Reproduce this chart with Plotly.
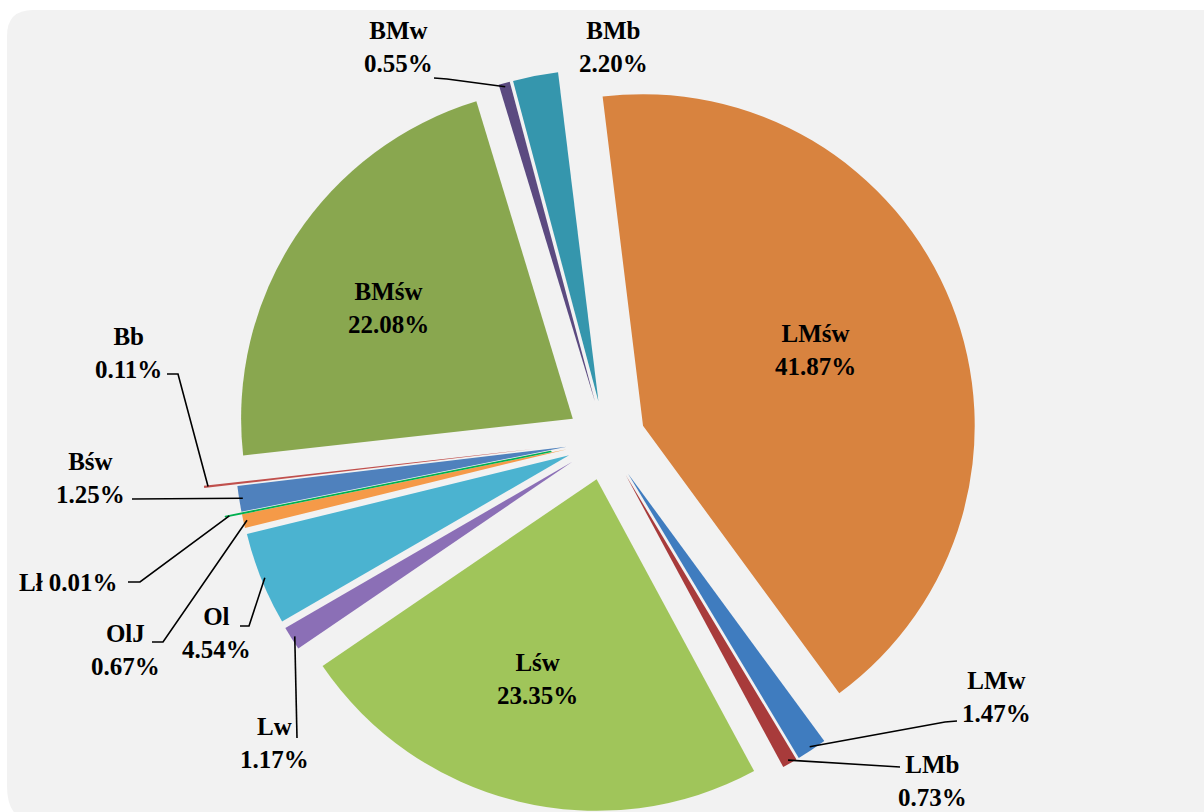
import math
import plotly.graph_objects as go

# ---- data ----
categories = ["LMśw", "LMw", "LMb", "Lśw", "Lw", "Ol", "OlJ", "Lł",
              "Bśw", "Bb", "BMśw", "BMw", "BMb"]
shares = [41.87, 1.47, 0.73, 23.35, 1.17, 4.54, 0.67, 0.01,
          1.25, 0.11, 22.08, 0.55, 2.20]
percent_labels = ["41.87%", "1.47%", "0.73%", "23.35%", "1.17%", "4.54%", "0.67%",
                  "0.01%", "1.25%", "0.11%", "22.08%", "0.55%", "2.20%"]

# ---- styling ----
colors = ["#d8833f", "#3f7cbf", "#a83b3b", "#a0c55a", "#8b6fb6", "#4bb3d0", "#f59a48",
          "#00b050", "#4f81bd", "#c0504d", "#89a74f", "#5b4a80", "#3596ad"]
pulls = [0.12] * len(shares)
# slices exploded further than the rest (drawn in their own shifted trace)
extra_pull = {"Bb": 0.22, "Lł": 0.17}
rotation = -7

W, H = 1204, 812
dom_x = [0.1948, 0.8119]
dom_y = [0.0, 0.915]

# label placement (pixel centres), optional leader start / elbow points
label_layout = {
    "LMśw": dict(c=(815, 350), two=True),
    "LMw": dict(c=(996, 697), two=True, lead=[(957, 721), (945, 722)]),
    "LMb": dict(c=(932, 781), two=True, lead=[(900, 767)]),
    "Lśw": dict(c=(537, 679), two=True),
    "Lw": dict(c=(274, 743), two=True, lead=[(297, 738)]),
    "Ol": dict(c=(217, 633), two=True, lead=[(240, 626), (249, 626)]),
    "OlJ": dict(c=(125, 650), two=True, lead=[(152, 642), (163, 642)]),
    "Lł": dict(c=(68, 582), two=False, lead=[(128, 582), (140, 582)]),
    "Bśw": dict(c=(90, 478), two=True, lead=[(132, 499)]),
    "Bb": dict(c=(128, 353), two=True, lead=[(167, 374), (178, 374)]),
    "BMśw": dict(c=(388, 308), two=True),
    "BMw": dict(c=(398, 47), two=True, lead=[(434, 78), (447, 79)]),
    "BMb": dict(c=(613, 47), two=True),
}

# ---- pie geometry mirrored from plotly's own layout rules ----
box_w = W * (dom_x[1] - dom_x[0])
box_h = H * (dom_y[1] - dom_y[0])
max_pull = max(pulls)
R = min(box_w, box_h) / (2 + 2 * max_pull)
cx = W * (dom_x[0] + dom_x[1]) / 2
cy = H * (2 - dom_y[1] - dom_y[0]) / 2
total = sum(shares)


def mid_angle(i):
    before = sum(shares[:i])
    return math.radians(rotation + 360 * (before + shares[i] / 2) / total)


def slice_pull(i):
    return extra_pull.get(categories[i], pulls[i])


def tip_point(i):
    a = mid_angle(i)
    dist = R * (1 + slice_pull(i)) * 0.99
    return cx + dist * math.sin(a), cy - dist * math.cos(a)


def px(x, y):
    return x / W, 1 - y / H


TRANSPARENT = "rgba(0,0,0,0)"
fig = go.Figure()
main_colors = [TRANSPARENT if c in extra_pull else col for c, col in zip(categories, colors)]
fig.add_trace(go.Pie(
    labels=categories, values=shares, sort=False, direction="clockwise",
    rotation=rotation, pull=pulls, textinfo="none", hoverinfo="label+percent",
    marker=dict(colors=main_colors, line=dict(width=0)),
    domain=dict(x=dom_x, y=dom_y), showlegend=False,
))

# further exploded slices: same pie, shifted along the slice bisector
for name, p in extra_pull.items():
    i = categories.index(name)
    a = mid_angle(i)
    scx = cx + p * R * math.sin(a)
    scy = cy - p * R * math.cos(a)
    sx = [(scx - R) / W, (scx + R) / W]
    sy = [1 - (scy + R) / H, 1 - (scy - R) / H]
    cols = [col if c == name else TRANSPARENT for c, col in zip(categories, colors)]
    widths = [1.6 if (c == name and shares[k] < 0.05) else 0 for k, c in enumerate(categories)]
    fig.add_trace(go.Pie(
        labels=categories, values=shares, sort=False, direction="clockwise",
        rotation=rotation, textinfo="none", hoverinfo="skip",
        marker=dict(colors=cols, line=dict(width=widths, color=colors)),
        domain=dict(x=sx, y=sy), showlegend=False,
    ))

shapes = []
# panel background with rounded left corners
r_c = 26
x0p, y0p = 7, 10
path = (f"M {(x0p + r_c)/W},{1 - y0p/H} L 1.01,{1 - y0p/H} L 1.01,-0.01 "
        f"L {(x0p + r_c)/W},-0.01 "
        f"Q {x0p/W},-0.01 {x0p/W},{r_c/H} "
        f"L {x0p/W},{1 - (y0p + r_c)/H} "
        f"Q {x0p/W},{1 - y0p/H} {(x0p + r_c)/W},{1 - y0p/H} Z")
shapes.append(dict(type="path", path=path, xref="paper", yref="paper",
                   fillcolor="#f2f2f2", line=dict(width=0), layer="below"))

annotations = []
for i, name in enumerate(categories):
    spec = label_layout[name]
    text = f"{name}<br>{percent_labels[i]}" if spec["two"] else f"{name} {percent_labels[i]}"
    ax, ay = px(*spec["c"])
    annotations.append(dict(
        text=text, x=ax, y=ay, xref="paper", yref="paper", showarrow=False,
        xanchor="center", yanchor="middle", align="center",
        font=dict(family="Liberation Serif", size=25, color="#000000", weight="bold"),
    ))
    if "lead" in spec:
        pts = list(spec["lead"]) + [tip_point(i)]
        p = "M " + " L ".join(f"{px(x, y)[0]},{px(x, y)[1]}" for x, y in pts)
        shapes.append(dict(type="path", path=p, xref="paper", yref="paper",
                           line=dict(color="#000000", width=1.6), layer="above"))

fig.update_layout(
    width=W, height=H, margin=dict(l=0, r=0, t=0, b=0),
    paper_bgcolor="#ffffff", plot_bgcolor="#ffffff",
    shapes=shapes, annotations=annotations,
)

fig.write_html("out.html")
